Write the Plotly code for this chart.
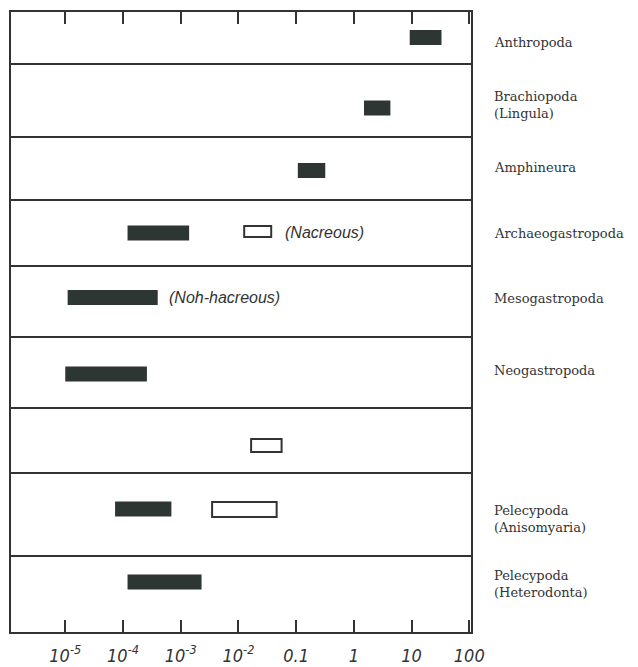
import plotly.graph_objects as go

# ---------------- data ----------------
groups = ["Anthropoda", "Brachiopoda<br>(Lingula)", "Amphineura", "Archaeogastropoda",
          "Mesogastropoda", "Neogastropoda", "", "Pelecypoda<br>(Anisomyaria)",
          "Pelecypoda<br>(Heterodonta)"]
solid_low = [9.3, 1.5, 0.107, 1.2e-4, 1.1e-5, 1.0e-5, None, 7.3e-5, 1.2e-4]
solid_high = [33, 4.3, 0.32, 1.4e-3, 4.0e-4, 2.6e-4, None, 6.9e-4, 2.3e-3]
open_low = [None, None, None, 0.0126, None, None, 0.0166, 3.5e-3, None]
open_high = [None, None, None, 0.037, None, None, 0.056, 0.046, None]
tick_vals = [1e-5, 1e-4, 1e-3, 1e-2, 0.1, 1, 10, 100]
tick_text = ["10<sup>-5</sup>", "10<sup>-4</sup>", "10<sup>-3</sup>", "10<sup>-2</sup>",
             "0.1", "1", "10", "100"]
notes = ["(Nacreous)", "(Noh-hacreous)"]

# ---------------- layout constants ----------------
row_edges = [12, 64, 137, 200, 266, 337, 408, 473, 556, 632]
solid_y = [37.5, 108, 170.5, 233, 297.5, 374, 445.5, 509, 582]
open_y = [None, None, None, 231.5, None, None, 445.5, 509.5, None]
open_w = [None, None, None, 11, None, None, 13, 15, None]
label_y = [42, 105, 167, 233, 298, 370, None, 519, 584]
note_pos = [(-1.22, 232), (-3.24, 297)]

DARK = "#2d3632"
LINE = "#333333"

fig = go.Figure()

sy, sx, sb = [], [], []
for y, lo, hi in zip(solid_y, solid_low, solid_high):
    if lo is None:
        continue
    sy.append(y); sb.append(lo); sx.append(hi - lo)
fig.add_trace(go.Bar(y=sy, x=sx, base=sb, orientation="h", width=15,
                     marker=dict(color=DARK, line=dict(width=0)),
                     hoverinfo="skip", showlegend=False))

oy, ox, ob, ow = [], [], [], []
for y, lo, hi, w in zip(open_y, open_low, open_high, open_w):
    if lo is None:
        continue
    oy.append(y); ob.append(lo); ox.append(hi - lo); ow.append(w)
fig.add_trace(go.Bar(y=oy, x=ox, base=ob, orientation="h", width=ow,
                     marker=dict(color="white", line=dict(width=2, color=LINE)),
                     hoverinfo="skip", showlegend=False))

shapes = []
for e in row_edges[1:-1]:
    shapes.append(dict(type="line", xref="paper", x0=0, x1=1, yref="y", y0=e, y1=e,
                       line=dict(color=LINE, width=2)))

annotations = []
for g, y in zip(groups, label_y):
    if y is None or not g:
        continue
    annotations.append(dict(text=g, xref="paper", x=1.046, xanchor="left",
                            yref="y", y=y, yanchor="middle", showarrow=False, align="left",
                            font=dict(family="DejaVu Serif", size=13, color=LINE)))
for t, (x, y) in zip(notes, note_pos):
    annotations.append(dict(text=t, xref="x", x=x, xanchor="left", yref="y", y=y,
                            yanchor="middle", showarrow=False,
                            font=dict(family="Liberation Sans", size=16, color=LINE,
                                      style="italic")))

fig.update_layout(
    width=638, height=667,
    margin=dict(l=3, r=175, t=4, b=43),
    paper_bgcolor="white", plot_bgcolor="white",
    barmode="overlay",
    shapes=shapes, annotations=annotations,
    xaxis=dict(type="log", range=[-5.94, 2.03], tickvals=tick_vals, ticktext=tick_text,
               ticks="inside", ticklen=12, tickwidth=1.5, tickcolor=LINE,
               showline=True, linewidth=2, linecolor=LINE, mirror="ticks",
               showgrid=False, zeroline=False, ticklabelstandoff=6,
               tickfont=dict(family="Liberation Sans Narrow, DejaVu Sans Condensed, Liberation Sans",
                             size=18, color=LINE, style="italic")),
    yaxis=dict(range=[row_edges[-1], row_edges[0]], showline=True, linewidth=2,
               linecolor=LINE, mirror=True, showgrid=False, zeroline=False,
               showticklabels=False, ticks=""),
)

fig.write_html("out.html")
